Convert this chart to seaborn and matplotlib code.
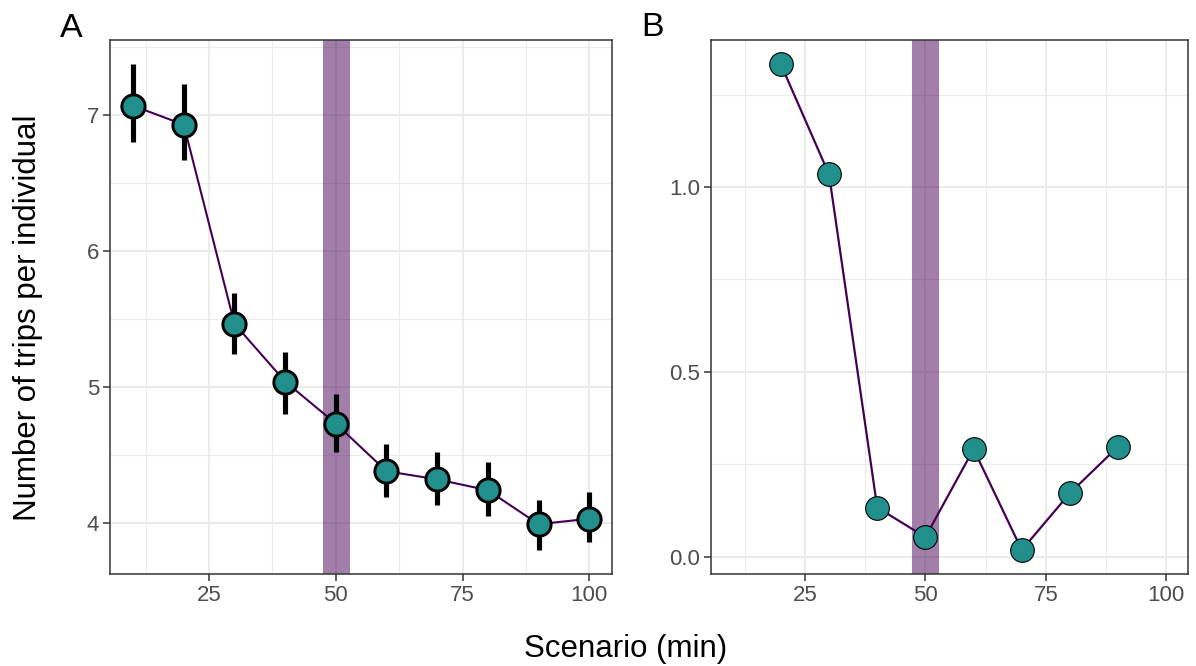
import matplotlib
matplotlib.use("Agg")
import matplotlib.pyplot as plt
from matplotlib.ticker import FixedLocator, MultipleLocator
import numpy as np
import pandas as pd
import seaborn as sns

# Panel A: mean number of trips per individual with interval bounds
scenario_a = [10, 20, 30, 40, 50, 60, 70, 80, 90, 100]
trips_mean = [7.07, 6.93, 5.465, 5.04, 4.73, 4.38, 4.32, 4.24, 3.99, 4.03]
trips_low = [6.805, 6.67, 5.24, 4.80, 4.52, 4.19, 4.13, 4.05, 3.80, 3.86]
trips_high = [7.375, 7.23, 5.695, 5.255, 4.95, 4.58, 4.52, 4.45, 4.17, 4.23]

# Panel B
scenario_b = [20, 30, 40, 50, 60, 70, 80, 90]
value_b = [1.332, 1.034, 0.133, 0.053, 0.291, 0.018, 0.172, 0.298]

x_ticks = [25, 50, 75, 100]
y_ticks_a = [4, 5, 6, 7]
y_labels_a = ["4", "5", "6", "7"]
y_ticks_b = [0.0, 0.5, 1.0]
y_labels_b = ["0.0", "0.5", "1.0"]
reference_scenario = 50

LINE_COL = "#440154"
FILL_COL = "#21908C"
GRID_COL = "#EBEBEB"
FRAME_COL = "#333333"
TICK_TXT = "#4D4D4D"

sns.set_theme(style="white")
plt.rcParams["font.family"] = ["Liberation Sans", "DejaVu Sans"]

W, H = 1196, 666
fig = plt.figure(figsize=(W / 100, H / 100), dpi=100)


def px_axes(left, top, right, bottom):
    return fig.add_axes([left / W, 1 - bottom / H, (right - left) / W, (bottom - top) / H])


def expand(lo, hi, frac=0.05):
    pad = (hi - lo) * frac
    return lo - pad, hi + pad


def style(ax, yticks, ylabels, yminor):
    ax.set_xlim(*expand(min(scenario_a), max(scenario_a)))
    ax.xaxis.set_major_locator(FixedLocator(x_ticks))
    ax.xaxis.set_minor_locator(MultipleLocator(12.5))
    ax.set_xticklabels([str(t) for t in x_ticks])
    ax.yaxis.set_major_locator(FixedLocator(yticks))
    ax.set_yticklabels(ylabels)
    ax.yaxis.set_minor_locator(MultipleLocator(yminor))
    ax.set_axisbelow(True)
    ax.grid(which="major", color=GRID_COL, linewidth=1.5)
    ax.grid(which="minor", color=GRID_COL, linewidth=0.8)
    ax.tick_params(which="major", length=5, width=1.1, color=FRAME_COL,
                   labelcolor=TICK_TXT, labelsize=16, pad=3,
                   bottom=True, left=True)
    ax.tick_params(which="minor", length=0)
    for sp in ax.spines.values():
        sp.set_color(FRAME_COL)
        sp.set_linewidth(1.1)
        sp.set_visible(True)
    ax.set_xlabel("")
    ax.set_ylabel("")


# ---- Panel A ----
df_a = pd.DataFrame({"scenario": scenario_a, "mean": trips_mean,
                     "low": trips_low, "high": trips_high})
ax_a = px_axes(110.3, 40, 612, 574.3)
ax_a.axvline(reference_scenario, color=LINE_COL, alpha=0.5, linewidth=19.5, zorder=1)
sns.lineplot(data=df_a, x="scenario", y="mean", color=LINE_COL, linewidth=1.5,
             ax=ax_a, zorder=2)
ax_a.vlines(df_a["scenario"], df_a["low"], df_a["high"], color="black",
            linewidth=3.7, zorder=3)
sns.scatterplot(data=df_a, x="scenario", y="mean", s=280, color=FILL_COL,
                edgecolor="black", linewidth=2.1, ax=ax_a, zorder=4, legend=False)
ax_a.set_ylim(*expand(min(trips_low), max(trips_high)))
style(ax_a, y_ticks_a, y_labels_a, 0.5)

# ---- Panel B ----
df_b = pd.DataFrame({"scenario": scenario_b, "value": value_b})
ax_b = px_axes(711, 40, 1188, 574.3)
ax_b.axvline(reference_scenario, color=LINE_COL, alpha=0.5, linewidth=19.5, zorder=1)
sns.lineplot(data=df_b, x="scenario", y="value", color=LINE_COL, linewidth=1.6,
             ax=ax_b, zorder=2)
sns.scatterplot(data=df_b, x="scenario", y="value", s=290, color=FILL_COL,
                edgecolor="black", linewidth=0.8, ax=ax_b, zorder=4, legend=False)
ax_b.set_ylim(*expand(min(value_b), max(value_b)))
style(ax_b, y_ticks_b, y_labels_b, 0.25)

# Panel tags and shared axis titles
fig.text(60 / W, 1 - 37 / H, "A", fontsize=24.5, color="black", va="baseline")
fig.text(641.5 / W, 1 - 36 / H, "B", fontsize=24.5, color="black", va="baseline")
fig.text(626 / W, 1 - 657 / H, "Scenario (min)", fontsize=22.5, color="black",
         ha="center", va="baseline")
fig.text(28 / W, 1 - 318 / H, "Number of trips per individual", fontsize=22.5,
         color="black", rotation=90, ha="center", va="center")

fig.savefig("out.png", dpi=100, facecolor="white")
